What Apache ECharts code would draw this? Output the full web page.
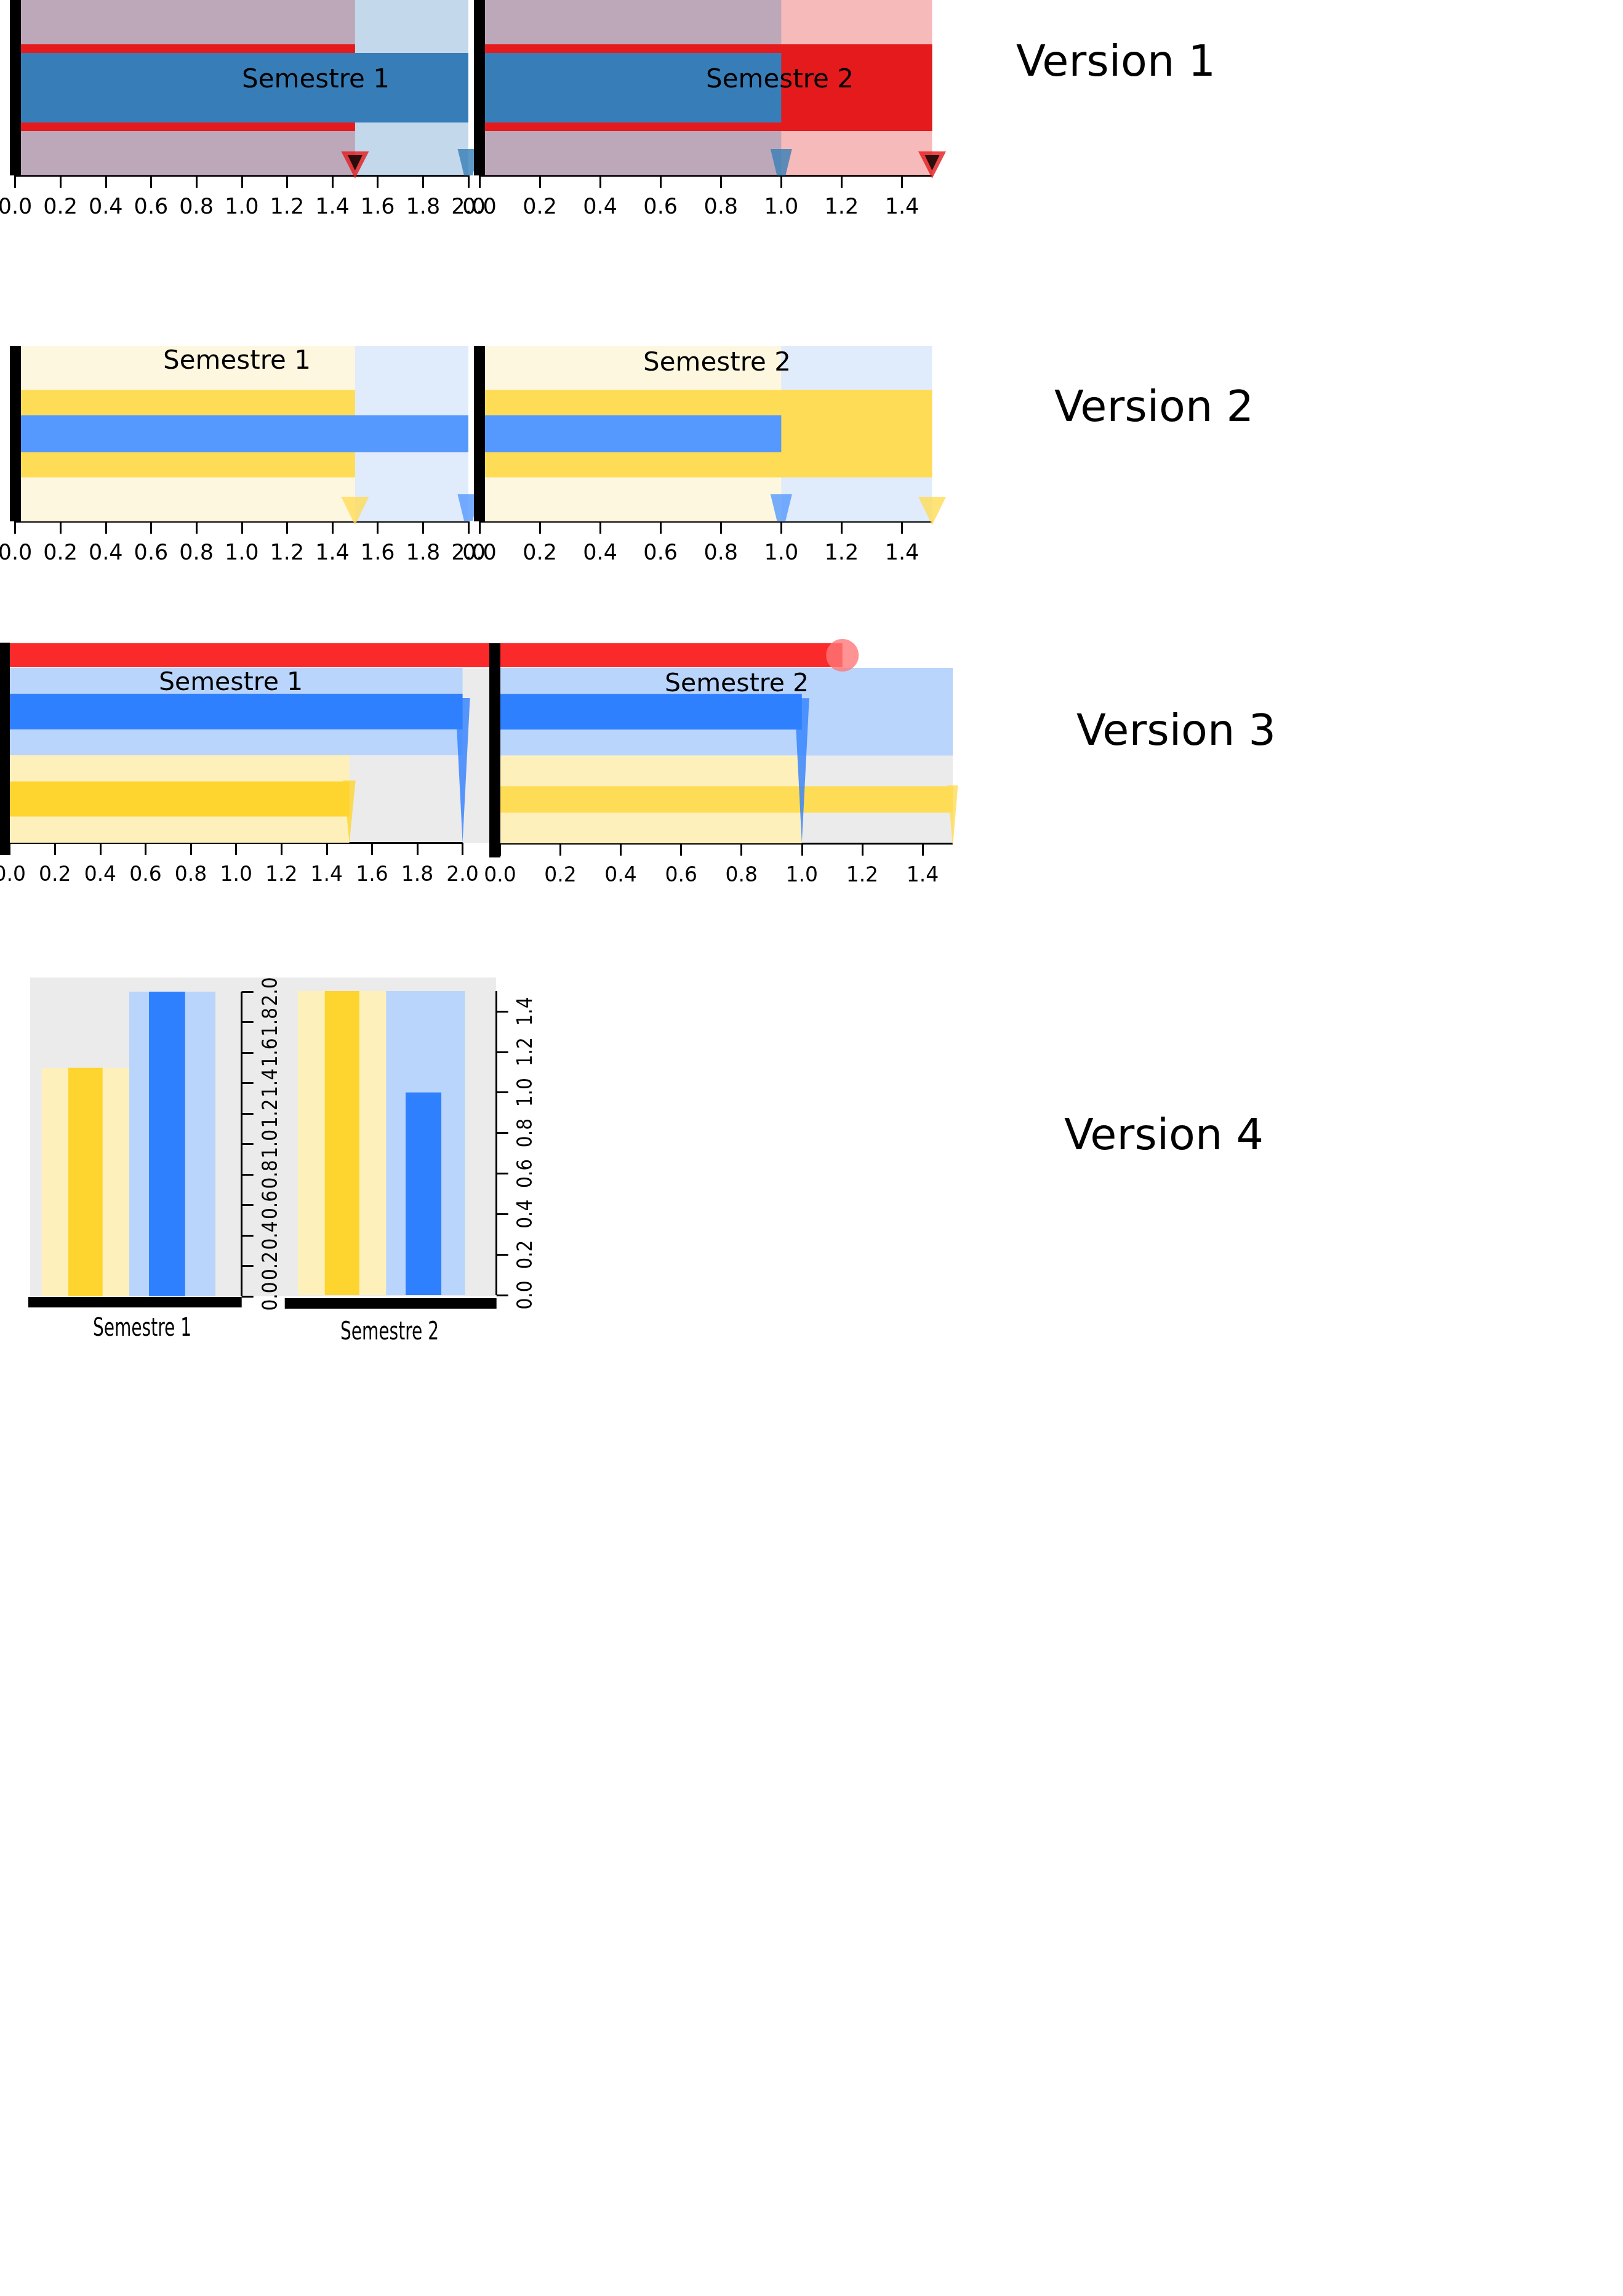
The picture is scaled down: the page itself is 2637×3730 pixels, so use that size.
<!DOCTYPE html>
<html><head><meta charset="utf-8">
<script src="https://cdn.jsdelivr.net/npm/echarts@6/dist/echarts.min.js"></script>
<style>html,body{margin:0;padding:0;background:#fff}#c{width:2637px;height:3730px}</style>
</head><body><div id="c"></div>
<script>
// ---------- data ----------
const semesters = ['Semestre 1', 'Semestre 2'];
const blueValues = [2.0, 1.0];
const otherValues = [1.5, 1.5];      // red (V1) / yellow (V2-V4)
const axisMaxima = [2.0, 1.5];
const tickStep = 0.2;
const overallProgress = 0.883;
const v3Rows = ['bleu', 'jaune'];
const versionTitles = ['Version 1', 'Version 2', 'Version 3', 'Version 4'];

// ---------- helpers ----------
const maxOf = blueValues.map((b, i) => Math.max(b, otherValues[i]));
const minOf = blueValues.map((b, i) => Math.min(b, otherValues[i]));
const fmt = v => v.toFixed(1);
const DOWN = 'path://M0,0L20,0L10,20Z';
const TRAP = 'path://M0,0L35,0L24.5,43L10.5,43Z';
const FONT = '"DejaVu Sans", sans-serif';
const COND = '"DejaVu Sans Condensed", "DejaVu Sans", sans-serif';

const grid = [], xAxis = [], yAxis = [], series = [], graphic = [];

function g(left, top, width, height, extra) {
  grid.push(Object.assign({left, top, width, height, containLabel: false, outerBoundsMode: 'none', show: false}, extra || {}));
  return grid.length - 1;
}
function hx(gi, o) { xAxis.push(Object.assign({gridIndex: gi, show: false, type: 'value'}, o || {})); return xAxis.length - 1; }
function hy(gi, o) { yAxis.push(Object.assign({gridIndex: gi, show: false, type: 'value'}, o || {})); return yAxis.length - 1; }
function onStep(m) { return Math.abs(Math.round(m / tickStep) * tickStep - m) < 1e-9; }

function valueX(gi, i, fs, margin) {
  xAxis.push({
    type: 'value', gridIndex: gi, position: 'bottom', min: 0, max: axisMaxima[i], interval: tickStep,
    axisLine: {show: true, onZero: false, lineStyle: {color: '#000', width: 3, cap: 'butt'}},
    axisTick: {show: true, inside: false, length: 20, lineStyle: {color: '#000', width: 3, cap: 'butt'}},
    axisLabel: {show: true, color: '#000', fontFamily: FONT, fontSize: fs, margin: margin, hideOverlap: false,
      formatter: fmt, showMaxLabel: onStep(axisMaxima[i]), showMinLabel: true},
    splitLine: {show: false}
  });
  return xAxis.length - 1;
}
function spineCatY(gi, cats, width) {
  yAxis.push({type: 'category', gridIndex: gi, data: cats, position: 'left', z: 10,
    axisLine: {show: true, onZero: false, lineStyle: {color: '#000', width: width, cap: 'butt'}},
    axisTick: {show: false}, axisLabel: {show: false}, splitLine: {show: false}});
  return yAxis.length - 1;
}
function catY(gi, cats, inverse) {
  yAxis.push({type: 'category', gridIndex: gi, data: cats, inverse: !!inverse, show: false});
  return yAxis.length - 1;
}
function text(x, y, t, size, family, sx) {
  graphic.push({type: 'text', x: x, y: y, scaleX: sx || 1, z: 100, silent: true,
    style: {text: t, font: size + 'px ' + family, fill: '#000', textAlign: 'center', textVerticalAlign: 'middle'}});
}

// ---------- Version 1 ----------
const v1Layout = [{left: 24.5, width: 736.5, tx: 513}, {left: 779, width: 735.5, tx: 1267}];
semesters.forEach((s, i) => {
  const L = v1Layout[i];
  const gi = g(L.left, 0, L.width, 285);
  const xi = valueX(gi, i, 35, 35);
  const yA = spineCatY(gi, [s], 18);
  const yB = catY(gi, [s]);
  const yC = catY(gi, [s]);
  const b = {xAxisIndex: xi, silent: true};
  series.push(Object.assign({type: 'bar', yAxisIndex: yA, data: [otherValues[i]], barWidth: '100%', barGap: '-100%', itemStyle: {color: '#E41A1C', opacity: 0.3}}, b));
  series.push(Object.assign({type: 'bar', yAxisIndex: yA, data: [blueValues[i]], barWidth: '100%', barGap: '-100%', itemStyle: {color: '#377EB8', opacity: 0.3}}, b));
  series.push(Object.assign({type: 'bar', yAxisIndex: yB, data: [otherValues[i]], barWidth: 141, itemStyle: {color: '#E41A1C'}}, b));
  series.push(Object.assign({type: 'bar', yAxisIndex: yC, data: [blueValues[i]], barWidth: 113, itemStyle: {color: '#377EB8'}}, b));
  series.push(Object.assign({type: 'scatter', yAxisIndex: yA, data: [[blueValues[i], 0]], symbol: TRAP, symbolSize: [35, 43], symbolOffset: [0, 121], itemStyle: {color: '#377EB8'}, clip: false, z: 3}, b));
  series.push(Object.assign({type: 'scatter', yAxisIndex: yA, data: [[otherValues[i], 0]], symbol: DOWN, symbolSize: [45, 44], symbolOffset: [0, 125.5], itemStyle: {color: '#E41A1C'}, clip: false, z: 4}, b));
  series.push(Object.assign({type: 'scatter', yAxisIndex: yA, data: [[otherValues[i], 0]], symbol: DOWN, symbolSize: [24, 25], symbolOffset: [0, 122], itemStyle: {color: '#000'}, clip: false, z: 5}, b));
  text(L.tx, 131, s, 42, FONT);
});

// ---------- Version 2 ----------
const v2Layout = [{left: 24.5, width: 736.5, tx: 385, ty: 588}, {left: 779, width: 735.5, tx: 1165, ty: 591}];
semesters.forEach((s, i) => {
  const L = v2Layout[i];
  const gi = g(L.left, 562, L.width, 285);
  const xi = valueX(gi, i, 35, 35);
  const yA = spineCatY(gi, [s], 18);
  const yB = catY(gi, [s]);
  const yC = catY(gi, [s]);
  const b = {xAxisIndex: xi, silent: true};
  series.push(Object.assign({type: 'bar', yAxisIndex: yA, data: [maxOf[i]], barWidth: '100%', barGap: '-100%', itemStyle: {color: '#E0EBFC'}}, b));
  series.push(Object.assign({type: 'bar', yAxisIndex: yA, data: [minOf[i]], barWidth: '100%', barGap: '-100%', itemStyle: {color: '#FEF7E0'}}, b));
  series.push(Object.assign({type: 'bar', yAxisIndex: yB, data: [otherValues[i]], barWidth: 142, itemStyle: {color: '#FFDC55'}}, b));
  series.push(Object.assign({type: 'bar', yAxisIndex: yC, data: [blueValues[i]], barWidth: 60, itemStyle: {color: '#5599FF'}}, b));
  series.push(Object.assign({type: 'scatter', yAxisIndex: yA, data: [[blueValues[i], 0]], symbol: TRAP, symbolSize: [35, 43], symbolOffset: [0, 120], itemStyle: {color: '#5599FF'}, clip: false, z: 3}, b));
  series.push(Object.assign({type: 'scatter', yAxisIndex: yA, data: [[otherValues[i], 0]], symbol: DOWN, symbolSize: [45, 46], symbolOffset: [0, 125.5], itemStyle: {color: '#FFDC55'}, clip: false, z: 4}, b));
  text(L.tx, L.ty, s, 42, FONT);
});

// ---------- Version 3 ----------
{ // grey background
  const gi = g(15.7, 1086, 1532.3, 283.5, {show: true, backgroundColor: '#EBEBEB', borderWidth: 0});
  hx(gi); hy(gi);
}
const v3Layout = [
  {left: 15.7, width: 735.9, height: 284, yw: 57, ycol: '#FED42F', ys: [20, 101], yo: 20.5, tx: 375, ty: 1110},
  {left: 812.4, width: 735.6, height: 285, yw: 43, ycol: '#FFDC55', ys: [17, 100], yo: 27, tx: 1197, ty: 1112}
];
semesters.forEach((s, i) => {
  const L = v3Layout[i];
  const gi = g(L.left, 1085, L.width, L.height);
  const xi = valueX(gi, i, 33, 37);
  const yA = catY(gi, v3Rows, true);
  const yB = catY(gi, v3Rows, true);
  const yC = catY(gi, v3Rows, true);
  const b = {xAxisIndex: xi, silent: true};
  series.push(Object.assign({type: 'bar', yAxisIndex: yA, barWidth: '100%',
    data: [{value: maxOf[i], itemStyle: {color: '#B9D5FC'}}, {value: minOf[i], itemStyle: {color: '#FEF0BB'}}]}, b));
  series.push(Object.assign({type: 'bar', yAxisIndex: yB, barWidth: 58, data: [blueValues[i], '-'], itemStyle: {color: '#2F80FF'}}, b));
  series.push(Object.assign({type: 'bar', yAxisIndex: yC, barWidth: L.yw, data: ['-', otherValues[i]], itemStyle: {color: L.ycol}}, b));
  series.push(Object.assign({type: 'scatter', yAxisIndex: yA, data: [[blueValues[i], 0]], symbol: DOWN, symbolSize: [24, 235], symbolOffset: [0, 95.5], itemStyle: {color: '#2F80FF'}, clip: false, z: 4}, b));
  series.push(Object.assign({type: 'scatter', yAxisIndex: yA, data: [[otherValues[i], 1]], symbol: DOWN, symbolSize: L.ys, symbolOffset: [0, L.yo], itemStyle: {color: L.ycol}, clip: false, z: 3}, b));
  text(L.tx, L.ty, s, 41, FONT);
});
{ // progress bar across both semesters
  const gi = g(15.7, 1045, 1532.3, 39);
  const xi = hx(gi, {min: 0, max: 1});
  const yi = catY(gi, ['progression']);
  series.push({type: 'bar', xAxisIndex: xi, yAxisIndex: yi, data: [overallProgress], barWidth: '100%', itemStyle: {color: '#FA2A2A'}, silent: true});
  series.push({type: 'scatter', xAxisIndex: xi, yAxisIndex: yi, data: [[overallProgress, 0]], symbol: 'circle', symbolSize: 53, itemStyle: {color: '#FF7777'}, clip: false, silent: true, z: 3});
}
[{left: 7.8, top: 1044, h: 345, w: 16}, {left: 803.5, top: 1045, h: 348, w: 18}].forEach(sp => {
  const gi = g(sp.left, sp.top, 1, sp.h);
  hx(gi);
  yAxis.push({type: 'value', gridIndex: gi, position: 'left', z: 10,
    axisLine: {show: true, onZero: false, lineStyle: {color: '#000', width: sp.w, cap: 'butt'}},
    axisTick: {show: false}, axisLabel: {show: false}, splitLine: {show: false}});
});

// ---------- Version 4 ----------
{
  const gi = g(49, 1588, 757, 518, {show: true, backgroundColor: '#EBEBEB', borderWidth: 0});
  hx(gi); hy(gi);
}
const v4Layout = [
  {left: 46, top: 1611, width: 346.7, height: 495, off: 9.5, lw: [142.3, 140], ls: 21, dw: [55.7, 58.7], dg: '135.2%', sl: 22.7, tx: 231, ty: 2160},
  {left: 462.7, top: 1610, width: 344, height: 494, off: 13.7, lw: [143.3, 128.4], ls: 29.7, dw: [56, 58], dg: '134.5%', sl: 23.2, tx: 633, ty: 2166}
];
semesters.forEach((s, i) => {
  const L = v4Layout[i];
  const gi = g(L.left, L.top, L.width, L.height);
  xAxis.push({type: 'category', gridIndex: gi, data: [s], position: 'bottom', offset: L.off,
    axisLine: {show: true, onZero: false, lineStyle: {color: '#000', width: 17, cap: 'butt'}},
    axisTick: {show: false}, axisLabel: {show: false}});
  const xL = xAxis.length - 1;
  xAxis.push({type: 'category', gridIndex: gi, data: [s], show: false});
  const xD = xAxis.length - 1;
  yAxis.push({type: 'value', gridIndex: gi, position: 'right', min: 0, max: axisMaxima[i], interval: tickStep,
    axisLine: {show: true, onZero: false, lineStyle: {color: '#000', width: 3, cap: 'butt'}},
    axisTick: {show: true, inside: false, length: 19, lineStyle: {color: '#000', width: 3, cap: 'butt'}},
    axisLabel: {show: true, rotate: 90, color: '#000', fontFamily: COND, fontSize: 33, margin: 32, hideOverlap: false,
      formatter: fmt, showMaxLabel: onStep(axisMaxima[i]), showMinLabel: true},
    splitLine: {show: false}});
  const yi = yAxis.length - 1;
  const b = {yAxisIndex: yi, silent: true, type: 'bar'};
  series.push(Object.assign({xAxisIndex: xL, data: [otherValues[i]], barWidth: L.lw[0], barGap: '0%', itemStyle: {color: '#FEF0BB'}}, b));
  series.push(Object.assign({xAxisIndex: xL, data: [maxOf[i]], barWidth: L.lw[1], barGap: '0%', itemStyle: {color: '#B9D5FC'}}, b));
  series.push(Object.assign({xAxisIndex: xL, data: ['-'], barWidth: L.ls, barGap: '0%', itemStyle: {color: 'rgba(0,0,0,0)'}}, b));
  series.push(Object.assign({xAxisIndex: xD, data: ['-'], barWidth: L.sl, barGap: L.dg, itemStyle: {color: 'rgba(0,0,0,0)'}}, b));
  series.push(Object.assign({xAxisIndex: xD, data: [otherValues[i]], barWidth: L.dw[0], barGap: L.dg, itemStyle: {color: '#FED42F'}}, b));
  series.push(Object.assign({xAxisIndex: xD, data: [blueValues[i]], barWidth: L.dw[1], barGap: L.dg, itemStyle: {color: '#2F80FF'}}, b));
  series.push(Object.assign({xAxisIndex: xD, data: ['-'], barWidth: 1, barGap: L.dg, itemStyle: {color: 'rgba(0,0,0,0)'}}, b));
  text(L.tx, L.ty, s, 40, COND, 0.78);
});

// ---------- titles ----------
const titlePos = [[1813, 105], [1875, 666], [1911, 1192], [1891, 1849]];
versionTitles.forEach((t, i) => text(titlePos[i][0], titlePos[i][1], t, 70, FONT));

const chart = echarts.init(document.getElementById('c'), null, {renderer: 'canvas'});
chart.setOption({animation: false, backgroundColor: '#fff', grid, xAxis, yAxis, series, graphic});
</script></body></html>
